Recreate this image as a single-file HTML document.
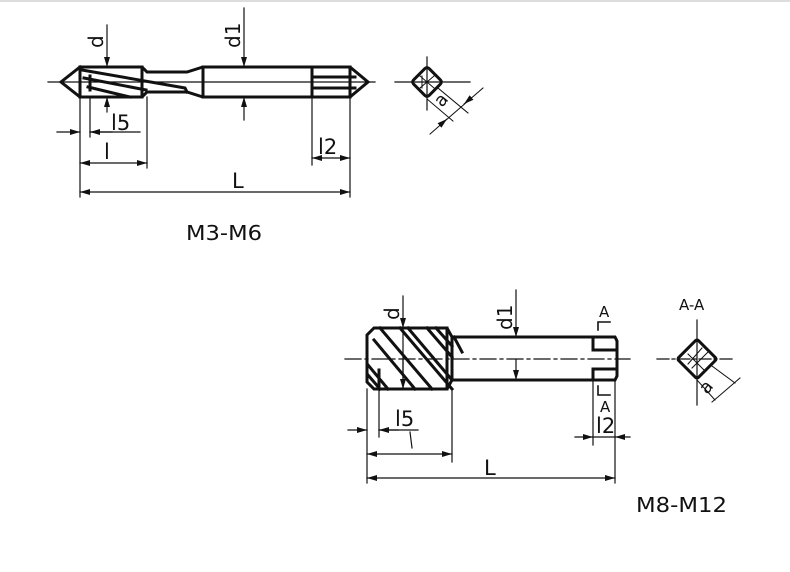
<!DOCTYPE html>
<html><head><meta charset="utf-8"><style>
html,body{margin:0;padding:0;background:#fff;}
svg{display:block;}
text{font-family:"DejaVu Sans","Liberation Sans",sans-serif;fill:#111;}
</style></head><body>
<svg width="790" height="572" viewBox="0 0 790 572" xmlns="http://www.w3.org/2000/svg">
<defs>
<marker id="ar" viewBox="0 0 10 6" refX="10" refY="3" markerWidth="10" markerHeight="6" orient="auto-start-reverse" markerUnits="userSpaceOnUse"><path d="M0,0 L10,3 L0,6z" fill="#111"/></marker>
</defs>
<rect x="0" y="0" width="790" height="2" fill="#ddd"/>
<g stroke="#111" fill="none" stroke-linecap="square">
<!-- TOP TOOL -->
<line x1="48" y1="82" x2="375" y2="82" stroke-width="1.2"/>
<g stroke-width="3">
<path d="M80,67 L61,82 L80,97"/>
<path d="M80,67 L142,67 L147,72 L187,72 L203,67 L350,67 L368,82 L350,97 L203,97 L187,92 L147,92 L142,97 L80,97 Z"/>
<line x1="80" y1="67" x2="80" y2="97"/>
<path d="M82,70 L185,88 L187,92"/>
<path d="M84,78 L146,90"/>
<path d="M88,87 L130,97"/>
<line x1="90" y1="76" x2="90" y2="90"/>
<line x1="142" y1="67" x2="142" y2="97"/>
<line x1="312" y1="67" x2="312" y2="97"/>
<line x1="312" y1="77" x2="355" y2="77"/>
<line x1="312" y1="88" x2="355" y2="88"/>
<line x1="350" y1="67" x2="350" y2="97"/>
<line x1="203" y1="67" x2="203" y2="97"/>
</g>
<g stroke-width="1.2">
<line x1="107" y1="25" x2="107" y2="67" marker-end="url(#ar)"/>
<line x1="107" y1="112" x2="107" y2="97" marker-end="url(#ar)"/>
<line x1="244" y1="8" x2="244" y2="67" marker-end="url(#ar)"/>
<line x1="244" y1="120" x2="244" y2="97" marker-end="url(#ar)"/>
<line x1="80" y1="97" x2="80" y2="197"/>
<line x1="90" y1="97" x2="90" y2="137"/>
<line x1="57" y1="132" x2="80" y2="132" marker-end="url(#ar)"/>
<line x1="112" y1="132" x2="90" y2="132" marker-end="url(#ar)"/>
<line x1="90" y1="132" x2="140" y2="132"/>
<line x1="147" y1="97" x2="147" y2="168"/>
<line x1="80" y1="163" x2="147" y2="163" marker-start="url(#ar)" marker-end="url(#ar)"/>
<line x1="80" y1="192" x2="350" y2="192" marker-start="url(#ar)" marker-end="url(#ar)"/>
<line x1="350" y1="97" x2="350" y2="197"/>
<line x1="312" y1="97" x2="312" y2="165"/>
<line x1="312" y1="158" x2="350" y2="158" marker-start="url(#ar)" marker-end="url(#ar)"/>
</g>
<!-- top section -->
<line x1="395" y1="82" x2="470" y2="82" stroke-width="1.2"/>
<line x1="427" y1="57" x2="427" y2="110" stroke-width="1.2"/>
<rect x="416" y="71" width="22" height="22" rx="3" transform="rotate(45 427 82)" stroke-width="3"/>
<path d="M420,76 L434,88 M420,88 L434,76 M422,76 L422,88" stroke-width="1"/>
<line x1="438" y1="88" x2="468" y2="113" stroke-width="1"/>
<line x1="427" y1="99" x2="453" y2="121" stroke-width="1"/>
<line x1="483" y1="88" x2="430" y2="134" stroke-width="1"/>
<line x1="471" y1="98" x2="464" y2="104" marker-end="url(#ar)" stroke-width="1"/>
<line x1="440" y1="125" x2="447" y2="119" marker-end="url(#ar)" stroke-width="1"/>

<!-- BOTTOM TOOL -->
<path d="M345,359 L630,359" stroke-width="1.2" stroke-dasharray="16,4,3,4"/>
<g stroke-width="3">
<path d="M374,328 L447,328 L452,337 L615,337 L617,341 L617,376 L615,380 L452,380 L447,389 L374,389 L367,382 L367,335 Z"/>
<line x1="452" y1="337" x2="452" y2="380"/>
<line x1="447" y1="328" x2="447" y2="389"/>
<line x1="454" y1="337" x2="462" y2="352"/>
<line x1="593" y1="350" x2="617" y2="350"/>
<line x1="593" y1="369" x2="617" y2="369"/>
<line x1="593" y1="350" x2="593" y2="337"/>
<line x1="593" y1="369" x2="593" y2="380"/>
<line x1="380" y1="328" x2="432" y2="389"/>
<line x1="374" y1="340" x2="415" y2="389"/>
<line x1="400" y1="328" x2="452" y2="389"/>
<line x1="408" y1="328" x2="452" y2="380"/>
<line x1="427" y1="328" x2="452" y2="357"/>
<line x1="436" y1="328" x2="452" y2="346"/>
<line x1="368" y1="365" x2="388" y2="389"/>
<line x1="368" y1="375" x2="380" y2="389"/>
<line x1="379" y1="370" x2="379" y2="389"/>
</g>
<g stroke-width="1.2">
<line x1="403" y1="296" x2="403" y2="328" marker-end="url(#ar)"/>
<line x1="403" y1="328" x2="403" y2="389"/>
<line x1="403" y1="360" x2="403" y2="389" marker-end="url(#ar)"/>
<line x1="516" y1="290" x2="516" y2="337" marker-end="url(#ar)"/>
<line x1="516" y1="360" x2="516" y2="380" marker-end="url(#ar)"/>
<line x1="367" y1="389" x2="367" y2="483"/>
<line x1="379" y1="389" x2="379" y2="437"/>
<line x1="348" y1="430" x2="367" y2="430" marker-end="url(#ar)"/>
<line x1="398" y1="430" x2="379" y2="430" marker-end="url(#ar)"/>
<line x1="379" y1="430" x2="418" y2="430"/>
<line x1="410" y1="432" x2="412" y2="448"/>
<line x1="452" y1="389" x2="452" y2="462"/>
<line x1="367" y1="454" x2="452" y2="454" marker-start="url(#ar)" marker-end="url(#ar)"/>
<line x1="367" y1="478" x2="615" y2="478" marker-start="url(#ar)" marker-end="url(#ar)"/>
<line x1="615" y1="380" x2="615" y2="483"/>
<line x1="593" y1="380" x2="593" y2="445"/>
<line x1="575" y1="437" x2="593" y2="437" marker-end="url(#ar)"/>
<line x1="630" y1="437" x2="615" y2="437" marker-end="url(#ar)"/>
<line x1="593" y1="437" x2="615" y2="437"/>
</g>
<path d="M598,330 L598,322 L610,322" stroke-width="1.6"/>
<path d="M598,386 L598,395 L610,395" stroke-width="1.6"/>
<!-- bottom section -->
<line x1="657" y1="359" x2="735" y2="359" stroke-width="1.2" stroke-dasharray="12,3,3,3"/>
<line x1="697" y1="320" x2="697" y2="405" stroke-width="1.2"/>
<rect x="683" y="345" width="28" height="28" rx="2" transform="rotate(45 697 359)" stroke-width="3"/>
<path d="M688,364 L702,348 M692,368 L708,352 M688,354 L704,370" stroke-width="1"/>
<line x1="712" y1="366" x2="735" y2="383" stroke-width="1"/>
<line x1="697" y1="380" x2="715" y2="400" stroke-width="1"/>
<line x1="740" y1="378" x2="712" y2="402" stroke-width="1"/>
</g>
<g>
<text x="0" y="0" font-size="20" transform="translate(103,48) rotate(-90)">d</text>
<text x="0" y="0" font-size="20" transform="translate(240,48) rotate(-90)">d1</text>
<text x="111" y="130" font-size="21">l5</text>
<text x="104" y="159" font-size="21">l</text>
<text x="232" y="188" font-size="21">L</text>
<text x="318" y="154" font-size="21">l2</text>
<text x="186" y="240" font-size="20" textLength="76" lengthAdjust="spacingAndGlyphs">M3-M6</text>
<text x="0" y="0" font-size="20" transform="translate(399,320) rotate(-90)">d</text>
<text x="0" y="0" font-size="20" transform="translate(512,330) rotate(-90)">d1</text>
<text x="395" y="426" font-size="21">l5</text>
<text x="484" y="475" font-size="21">L</text>
<text x="596" y="433" font-size="21">l2</text>
<text x="599" y="317" font-size="15">A</text>
<text x="600" y="412" font-size="15">A</text>
<text x="679" y="310" font-size="15">A-A</text>
<text x="636" y="512" font-size="20" textLength="91" lengthAdjust="spacingAndGlyphs">M8-M12</text>
<text x="0" y="0" font-size="18" transform="translate(442,108) rotate(-50)">a</text>
<text x="0" y="0" font-size="18" transform="translate(707,395) rotate(-50)">a</text>
</g>
</svg>
</body></html>
